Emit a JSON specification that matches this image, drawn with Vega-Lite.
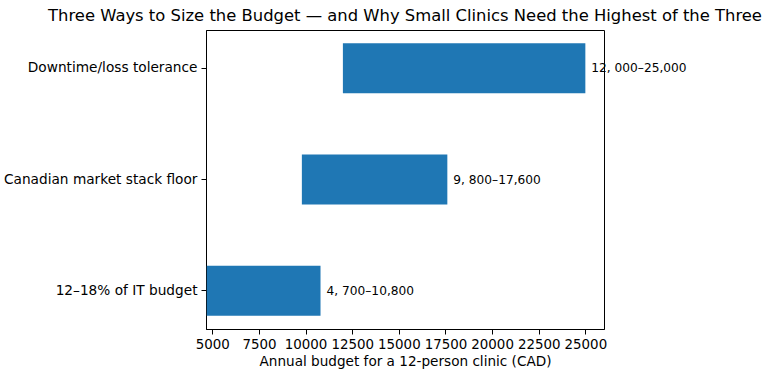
{
  "$schema": "https://vega.github.io/schema/vega-lite/v6.json",
  "width": 398,
  "height": 299,
  "autosize": {"type": "none"},
  "padding": {"left": 206, "top": 30, "right": 164, "bottom": 53},
  "title": {
    "text": "Three Ways to Size the Budget — and Why Small Clinics Need the Highest of the Three",
    "font": "DejaVu Sans",
    "fontSize": 16.4,
    "fontWeight": "normal",
    "color": "black",
    "anchor": "middle",
    "offset": 6
  },
  "config": {
    "view": {"stroke": "black", "strokeWidth": 1},
    "font": "DejaVu Sans"
  },
  "data": {
    "values": [
      {"approach": "Downtime/loss tolerance", "low": 12000, "high": 25000, "label": "12, 000–25,000"},
      {"approach": "Canadian market stack floor", "low": 9800, "high": 17600, "label": "9, 800–17,600"},
      {"approach": "12–18% of IT budget", "low": 4700, "high": 10800, "label": "4, 700–10,800"}
    ]
  },
  "encoding": {
    "y": {
      "field": "approach",
      "type": "nominal",
      "sort": null,
      "scale": {"paddingInner": 0.55, "paddingOuter": 0.12},
      "axis": {
        "title": null,
        "labelFont": "DejaVu Sans",
        "labelFontSize": 13.7,
        "labelColor": "black",
        "labelPadding": 4,
        "labelLimit": 0,
        "tickSize": 5,
        "tickColor": "black",
        "domainColor": "black",
        "grid": false
      }
    }
  },
  "layer": [
    {
      "mark": {"type": "bar", "color": "#1f77b4"},
      "encoding": {
        "x": {
          "field": "low",
          "type": "quantitative",
          "scale": {"domain": [4660, 26000], "nice": false, "zero": false},
          "axis": {
            "title": "Annual budget for a 12-person clinic (CAD)",
            "titleFont": "DejaVu Sans",
            "titleFontSize": 13.6,
            "titleFontWeight": "normal",
            "titleColor": "black",
            "titlePadding": 4,
            "values": [5000, 7500, 10000, 12500, 15000, 17500, 20000, 22500, 25000],
            "format": "d",
            "labelFont": "DejaVu Sans",
            "labelFontSize": 13.4,
            "labelColor": "black",
            "labelPadding": 3,
            "labelFlush": false,
            "labelOverlap": false,
            "tickSize": 5,
            "tickColor": "black",
            "domainColor": "black",
            "grid": false
          }
        },
        "x2": {"field": "high"}
      }
    },
    {
      "mark": {"type": "text", "align": "left", "baseline": "middle", "dx": 6, "fontSize": 12.2, "font": "DejaVu Sans", "color": "black"},
      "encoding": {
        "x": {"field": "high", "type": "quantitative"},
        "text": {"field": "label", "type": "nominal"}
      }
    }
  ]
}
